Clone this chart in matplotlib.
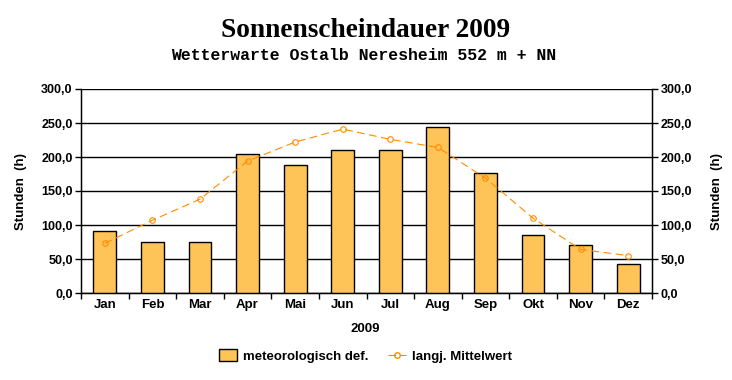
import matplotlib
matplotlib.use("Agg")
import matplotlib.pyplot as plt
from matplotlib.ticker import FuncFormatter, FixedLocator
from matplotlib.patches import Patch
from matplotlib.lines import Line2D

months = ["Jan", "Feb", "Mar", "Apr", "Mai", "Jun", "Jul", "Aug", "Sep", "Okt", "Nov", "Dez"]
sunshine_2009 = [91, 75, 75, 204, 188, 210, 210, 244, 176, 85, 71, 43]
long_term_mean = [73, 107, 138, 194, 222, 241, 226, 214, 169, 110, 64, 55]
yticks = [0, 50, 100, 150, 200, 250, 300]

sans = ["Liberation Sans", "DejaVu Sans"]
BAR = "#FFC457"
LINE = "#FF8C00"

fig = plt.figure(figsize=(7.32, 3.80), dpi=100)
ax = fig.add_axes([81/732, 1-293/380, (652-81)/732, (293-89)/380])

x = list(range(len(months)))
ax.bar(x, sunshine_2009, width=0.48, color=BAR, edgecolor="black", linewidth=1.0, zorder=3)
ax.plot(x, long_term_mean, color=LINE, linestyle=(0, (7, 4)), linewidth=0.8,
        marker="o", markersize=4, markerfacecolor="none", markeredgecolor=LINE,
        markeredgewidth=0.8, zorder=4)

ax.set_xlim(-0.5, 11.5)
ax.set_ylim(0, 300)
ax.yaxis.set_major_locator(FixedLocator(yticks))
fmt = FuncFormatter(lambda v, p: f"{v:.1f}".replace(".", ","))
ax.yaxis.set_major_formatter(fmt)
ax.grid(axis="y", color="black", linewidth=1.0, zorder=1)
ax.set_axisbelow(True)

ax.set_xticks(x)
ax.set_xticklabels(months)
ax.set_xticks([i + 0.5 for i in range(-1, 12)], minor=True)
ax.tick_params(axis="x", which="major", length=0, pad=4)
ax.tick_params(axis="x", which="minor", length=4, width=1, direction="out")
ax.tick_params(axis="y", length=4, width=1, direction="out", pad=2)

ax.spines["top"].set_visible(False)
for s in ["left", "right", "bottom"]:
    ax.spines[s].set_linewidth(1.0)

ax2 = ax.twinx()
ax2.set_ylim(0, 300)
ax2.yaxis.set_major_locator(FixedLocator(yticks))
ax2.yaxis.set_major_formatter(fmt)
ax2.tick_params(axis="y", length=4, width=1, direction="out", pad=2)
ax2.spines["top"].set_visible(False)

for a in (ax, ax2):
    for lab in a.get_yticklabels():
        lab.set_fontfamily(sans)
        lab.set_fontweight("bold")
        lab.set_fontsize(9)
for lab in ax.get_xticklabels():
    lab.set_fontfamily(sans)
    lab.set_fontweight("bold")
    lab.set_fontsize(9.5)

ax.set_ylabel("Stunden  (h)", fontfamily=sans, fontweight="bold", fontsize=9.5, labelpad=10)
ax2.set_ylabel("Stunden  (h)", fontfamily=sans, fontweight="bold", fontsize=9.5, labelpad=14)

fig.text(366/732, 1-37/380, "Sonnenscheindauer 2009", ha="center", va="baseline",
         fontfamily=["Liberation Serif", "DejaVu Serif"], fontweight="bold", fontsize=19.7)
fig.text(364/732, 1-55/380, "Wetterwarte Ostalb Neresheim 552 m + NN", ha="center", va="center",
         fontfamily=["Liberation Mono", "DejaVu Sans Mono"], fontweight="bold", fontsize=11.9)
fig.text(365/732, 1-329/380, "2009", ha="center", va="center",
         fontfamily=sans, fontweight="bold", fontsize=9.5)

handles = [Patch(facecolor=BAR, edgecolor="black", linewidth=1.0),
           Line2D([0], [0], color=LINE, linewidth=0.8, linestyle=(0, (7, 4)), marker="o", markersize=4,
                  markerfacecolor="none", markeredgecolor=LINE)]
leg = fig.legend(handles, ["meteorologisch def.", "langj. Mittelwert"], loc="center",
                 bbox_to_anchor=(365.5/732, 1-356/380), ncol=2, frameon=False,
                 prop={"family": sans, "weight": "bold", "size": 9.5},
                 handlelength=1.4, handleheight=1.0, columnspacing=1.45, handletextpad=0.45)

fig.savefig("out.png", dpi=100)
